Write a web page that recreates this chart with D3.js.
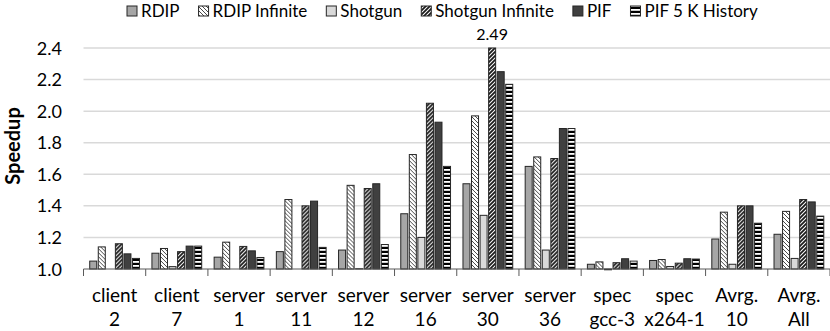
<!DOCTYPE html>
<html>
<head>
<meta charset="utf-8">
<script src="https://cdn.jsdelivr.net/npm/d3@7"></script>
<style>
  body { margin: 0; background: #fff; }
  text { font-family: Lato, "Open Sans", sans-serif; fill: #000; }
</style>
</head>
<body>
<div id="chart"></div>
<script>
// categories (two lines each)
var catTop = ["client", "client", "server", "server", "server", "server", "server", "server", "spec", "spec", "Avrg.", "Avrg."];
var catBottom = ["2", "7", "1", "11", "12", "16", "30", "36", "gcc-3", "x264-1", "10", "All"];

var seriesNames = ["RDIP", "RDIP Infinite", "Shotgun", "Shotgun Infinite", "PIF", "PIF 5 K History"];

// speedup values
var rdip       = [1.05, 1.10, 1.075, 1.11, 1.12, 1.35, 1.54, 1.65, 1.03, 1.054, 1.19, 1.22];
var rdipInf    = [1.14, 1.13, 1.17, 1.44, 1.53, 1.725, 1.97, 1.71, 1.045, 1.06, 1.36, 1.365];
var shotgun    = [1.0, 1.015, 1.0, 1.0, 1.002, 1.20, 1.34, 1.12, 0.995, 1.016, 1.03, 1.067];
var shotgunInf = [1.16, 1.11, 1.143, 1.40, 1.51, 2.05, 2.49, 1.70, 1.04, 1.037, 1.40, 1.44];
var pif        = [1.096, 1.145, 1.115, 1.43, 1.54, 1.93, 2.25, 1.89, 1.065, 1.065, 1.40, 1.425];
var pif5k      = [1.067, 1.145, 1.073, 1.137, 1.155, 1.65, 2.17, 1.89, 1.05, 1.063, 1.29, 1.335];

var yTicks = [1.0, 1.2, 1.4, 1.6, 1.8, 2.0, 2.2, 2.4];

var allSeries = [rdip, rdipInf, shotgun, shotgunInf, pif, pif5k];
var fills = ["#a6a6a6", "url(#pRdipInf)", "#d9d9d9", "url(#pShotInf)", "#404040", "url(#pPif5k)"];

var width = 830, height = 331;
var plotL = 83.5, plotR = 830, plotT = 48, plotB = 269;
var yMax = 2.4;

var svg = d3.select("#chart").append("svg")
    .attr("width", width)
    .attr("height", height);

// patterns
var defs = svg.append("defs");
var p1 = defs.append("pattern").attr("id", "pRdipInf")
    .attr("patternUnits", "userSpaceOnUse").attr("width", 4).attr("height", 4);
p1.append("rect").attr("width", 4).attr("height", 4).attr("fill", "#fff");
p1.append("path").attr("d", "M-1,-1L5,5M-1,3L1,5M3,-1L5,1")
    .attr("stroke", "#333").attr("stroke-width", 0.9);

var p2 = defs.append("pattern").attr("id", "pShotInf")
    .attr("patternUnits", "userSpaceOnUse").attr("width", 4).attr("height", 4);
p2.append("rect").attr("width", 4).attr("height", 4).attr("fill", "#fff");
p2.append("path").attr("d", "M-1,1L1,-1M0,4L4,0M3,5L5,3")
    .attr("stroke", "#1a1a1a").attr("stroke-width", 1.8);

var p3 = defs.append("pattern").attr("id", "pPif5k")
    .attr("patternUnits", "userSpaceOnUse").attr("width", 4).attr("height", 4);
p3.append("rect").attr("width", 4).attr("height", 4).attr("fill", "#000");
p3.append("rect").attr("y", 1).attr("width", 4).attr("height", 1.8).attr("fill", "#fff");

// scales
var x0 = d3.scaleBand()
    .domain(d3.range(catTop.length))
    .range([plotL, plotR])
    .paddingInner(0.2)
    .paddingOuter(0.1);

var x1 = d3.scaleBand()
    .domain(d3.range(seriesNames.length))
    .range([0, x0.bandwidth()])
    .paddingInner(0.18);

var y = d3.scaleLinear().domain([1.0, yMax]).range([plotB, plotT]);

// gridlines
svg.append("g").selectAll("line")
  .data(yTicks.slice(1))
  .enter().append("line")
    .attr("x1", plotL).attr("x2", plotR)
    .attr("y1", function(d) { return y(d); })
    .attr("y2", function(d) { return y(d); })
    .attr("stroke", "#d9d9d9")
    .attr("stroke-width", 1.5);

// y tick labels
svg.append("g").selectAll("text")
  .data(yTicks)
  .enter().append("text")
    .attr("x", 62)
    .attr("y", function(d) { return y(d) + 6.5; })
    .attr("text-anchor", "end")
    .style("font-size", "18px")
    .text(function(d) { return d.toFixed(1); });

// y title
svg.append("text")
    .attr("transform", "translate(20,146) rotate(-90)")
    .attr("text-anchor", "middle")
    .style("font-size", "20px")
    .style("font-weight", "bold")
    .text("Speedup");

// bars
var groups = svg.append("g").selectAll("g")
  .data(catTop.map(function(c, i) { return i; }))
  .enter().append("g")
    .attr("transform", function(i) { return "translate(" + x0(i) + ",0)"; });

groups.selectAll("rect")
  .data(function(i) { return allSeries.map(function(s, k) { return { k: k, v: s[i] }; }); })
  .enter().append("rect")
    .attr("x", function(d) { return x1(d.k); })
    .attr("width", x1.bandwidth())
    .attr("y", function(d) { return y(Math.max(1, Math.min(yMax, d.v))); })
    .attr("height", function(d) { return Math.abs(y(Math.min(yMax, d.v)) - y(1)); })
    .attr("fill", function(d) { return fills[d.k]; })
    .attr("stroke", "#262626")
    .attr("stroke-width", 1);

// value label for the clipped bar
var maxI = shotgunInf.indexOf(d3.max(shotgunInf));
svg.append("text")
    .attr("x", x0(maxI) + x1(3) + x1.bandwidth() / 2)
    .attr("y", 40)
    .attr("text-anchor", "middle")
    .style("font-size", "16px")
    .text(shotgunInf[maxI].toFixed(2));

// x axis line and ticks between categories
svg.append("line")
    .attr("x1", plotL).attr("x2", plotR)
    .attr("y1", plotB).attr("y2", plotB)
    .attr("stroke", "#595959").attr("stroke-width", 1);

svg.append("g").selectAll("line")
  .data(d3.range(catTop.length + 1))
  .enter().append("line")
    .attr("x1", function(i) { return plotL + i * x0.step(); })
    .attr("x2", function(i) { return plotL + i * x0.step(); })
    .attr("y1", plotB).attr("y2", plotB + 7)
    .attr("stroke", "#595959").attr("stroke-width", 1);

// category labels
var cat = svg.append("g").selectAll("text")
  .data(catTop.map(function(c, i) { return i; }))
  .enter().append("text")
    .attr("text-anchor", "middle")
    .style("font-size", "19px");
cat.append("tspan")
    .attr("x", function(i) { return x0(i) + x0.bandwidth() / 2; })
    .attr("y", 302)
    .text(function(i) { return catTop[i]; });
cat.append("tspan")
    .attr("x", function(i) { return x0(i) + x0.bandwidth() / 2; })
    .attr("y", 326)
    .text(function(i) { return catBottom[i]; });

// legend
var legend = svg.append("g");
var lx = 127;
seriesNames.forEach(function(name, k) {
  legend.append("rect")
      .attr("x", lx).attr("y", 6)
      .attr("width", 10).attr("height", 10)
      .attr("fill", fills[k])
      .attr("stroke", "#262626").attr("stroke-width", 1);
  var t = legend.append("text")
      .attr("x", lx + 14).attr("y", 17)
      .style("font-size", "17px")
      .text(name);
  lx = lx + 14 + t.node().getComputedTextLength() + 19;
});
</script>
</body>
</html>
